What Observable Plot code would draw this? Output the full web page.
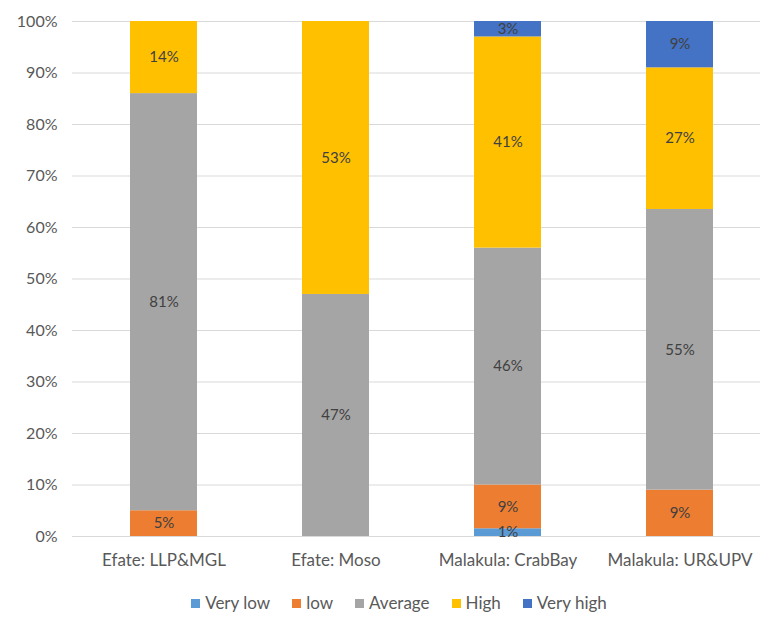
<!DOCTYPE html>
<html><head><meta charset="utf-8">
<script src="https://cdn.jsdelivr.net/npm/d3@7"></script>
<script src="https://cdn.jsdelivr.net/npm/@observablehq/plot@0.6"></script>
<style>
body{margin:0;background:#fff;font-family:Lato,"Open Sans",sans-serif;}
#legend{display:flex;justify-content:center;gap:22px;font-size:17px;color:#595959;margin-top:10px;padding-left:36px}
#legend span.sw{display:inline-block;width:9px;height:9px;margin-right:5px;vertical-align:middle;position:relative;top:-1px}
</style></head><body>
<div id="chart"></div>
<div id="legend"></div>
<script>
const sites = ["Efate: LLP&MGL", "Efate: Moso", "Malakula: CrabBay", "Malakula: UR&UPV"];
const levels = ["Very low", "low", "Average", "High", "Very high"];
const colors = ["#5B9BD5", "#ED7D31", "#A5A5A5", "#FFC000", "#4472C4"];
const veryLow = [0, 0, 1.5, 0];
const low = [5, 0, 8.5, 9];
const average = [81, 47, 46, 54.5];
const high = [14, 53, 41, 27.5];
const veryHigh = [0, 0, 3, 9];
const labelVeryLow = ["", "", "1%", ""];
const labelLow = ["5%", "", "9%", "9%"];
const labelAverage = ["81%", "47%", "46%", "55%"];
const labelHigh = ["14%", "53%", "41%", "27%"];
const labelVeryHigh = ["", "", "3%", "9%"];
const yTicks = [0,10,20,30,40,50,60,70,80,90,100];

const series = [veryLow, low, average, high, veryHigh];
const labels = [labelVeryLow, labelLow, labelAverage, labelHigh, labelVeryHigh];
const data = [];
levels.forEach((lv, i) => sites.forEach((s, j) => {
  data.push({site: s, level: lv, value: series[i][j], label: labels[i][j]});
}));

const chart = Plot.plot({
  width: 762, height: 582,
  marginTop: 21, marginBottom: 46, marginLeft: 72, marginRight: 2,
  style: {fontFamily: "Lato, 'Open Sans', sans-serif", fontSize: "16px", color: "#595959", background: "#fff"},
  x: {domain: sites, range: [76.5, 767.5], paddingInner: 0.61, paddingOuter: 0.305, label: null, tickSize: 0, tickPadding: 17, tickFormat: d => d},
  y: {domain: [0, 100], ticks: yTicks, tickFormat: d => d + "%", label: null, tickSize: 0, tickPadding: 15},
  color: {domain: levels, range: colors},
  marks: [
    Plot.ruleY(yTicks, {stroke: "#d9d9d9", strokeWidth: 1}),
    Plot.barY(data, {x: "site", y: "value", fill: "level", order: levels}),
    Plot.text(data, Plot.stackY({x: "site", y: "value", z: "level", order: levels, text: "label", fill: "#404040", fontSize: 15}))
  ]
});
chart.querySelectorAll("g[aria-label='x-axis tick label'] text").forEach(t => t.style.fontSize = "17px");
document.getElementById("chart").appendChild(chart);
const lg = document.getElementById("legend");
levels.forEach((lv, i) => {
  const d = document.createElement("div");
  d.innerHTML = `<span class="sw" style="background:${colors[i]}"></span>${lv}`;
  lg.appendChild(d);
});
</script>
</body></html>
